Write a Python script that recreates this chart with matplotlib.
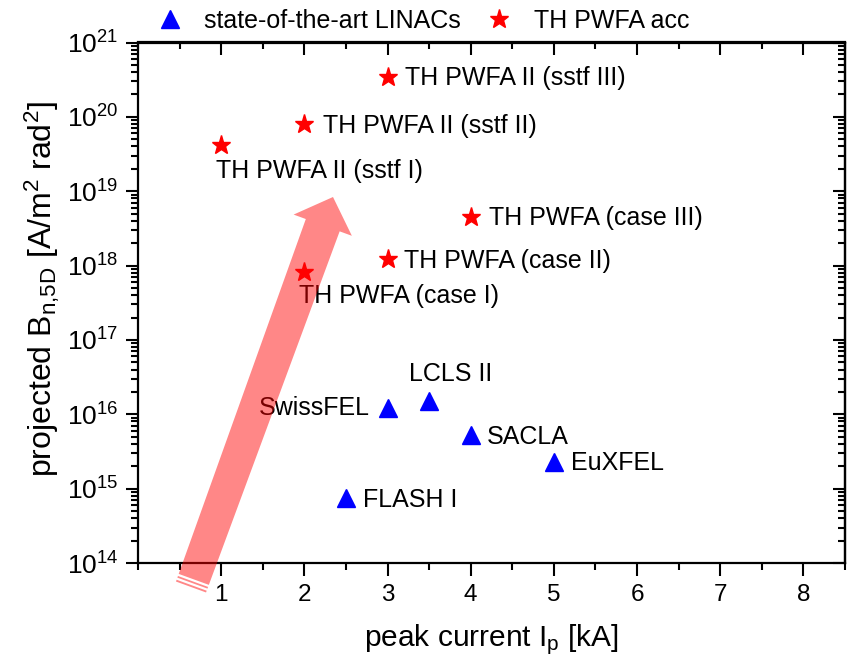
import matplotlib
matplotlib.use("Agg")
import matplotlib.pyplot as plt
import numpy as np
from matplotlib.patches import Polygon
from matplotlib.lines import Line2D
from matplotlib.ticker import MultipleLocator, LogLocator, NullFormatter, FuncFormatter

plt.rcParams['font.family'] = ['Liberation Sans', 'DejaVu Sans']
plt.rcParams['mathtext.fontset'] = 'custom'
plt.rcParams['mathtext.rm'] = 'Liberation Sans'
plt.rcParams['mathtext.it'] = 'Liberation Sans:italic'
plt.rcParams['mathtext.default'] = 'regular'

# ---------------- data ----------------
linac_names = ['SwissFEL', 'LCLS II', 'SACLA', 'EuXFEL', 'FLASH I']
linac_current = [3.0, 3.5, 4.0, 5.0, 2.5]
linac_brightness = [1.2e16, 1.5e16, 5.3e15, 2.3e15, 7.5e14]

pwfa_names = ['TH PWFA II (sstf III)', 'TH PWFA II (sstf II)', 'TH PWFA II (sstf I)',
              'TH PWFA (case III)', 'TH PWFA (case II)', 'TH PWFA (case I)']
pwfa_current = [3.0, 2.0, 1.0, 4.0, 3.0, 2.0]
pwfa_brightness = [3.4e20, 8.1e19, 4.15e19, 4.5e18, 1.22e18, 8.2e17]

legend_labels = ['state-of-the-art LINACs', 'TH PWFA acc']
x_ticks = [1, 2, 3, 4, 5, 6, 7, 8]

# ---------------- label placement (pixel offsets, y up) ----------------
linac_offsets = [(-18, 0, 'right'), (22, 27, 'center'), (16, -2, 'left'),
                 (17, -1, 'left'), (17, -2, 'left')]
pwfa_offsets = [(17, -1, 'left'), (19, -2, 'left'), (-5, -26, 'left'),
                (18, -1, 'left'), (16, -2, 'left'), (-5, -24, 'left')]

W, H = 852, 667
fig = plt.figure(figsize=(W / 100, H / 100), dpi=100)
L, R, T, B = 138, 845, 42.5, 563
ax = fig.add_axes([L / W, 1 - B / H, (R - L) / W, (B - T) / H])

ax.set_yscale('log')
ax.set_xlim(0, 8.5)
ax.set_ylim(1e14, 1e21)

ax.plot(linac_current, linac_brightness, ls='none', marker='^', ms=13.5,
        color='#0000ff', mec='#0000ff', label=legend_labels[0], zorder=3)
ax.plot(pwfa_current, pwfa_brightness, ls='none', marker='*', ms=14,
        color='#ff0000', mec='#ff0000', label=legend_labels[1], zorder=3)

fs_ann = 18
for name, x, y, (dx, dy, ha) in zip(linac_names, linac_current, linac_brightness, linac_offsets):
    ax.annotate(name, (x, y), xytext=(dx, dy), textcoords='offset pixels',
                ha=ha, va='center', fontsize=fs_ann, color='black')
for name, x, y, (dx, dy, ha) in zip(pwfa_names, pwfa_current, pwfa_brightness, pwfa_offsets):
    ax.annotate(name, (x, y), xytext=(dx, dy), textcoords='offset pixels',
                ha=ha, va='center', fontsize=fs_ann, color='black')

# ticks
ax.set_xticks(x_ticks)
ax.xaxis.set_minor_locator(MultipleLocator(0.5))
ax.yaxis.set_major_locator(LogLocator(base=10, numticks=20))
ax.yaxis.set_minor_locator(LogLocator(base=10, subs=np.arange(2, 10), numticks=20))
ax.yaxis.set_minor_formatter(NullFormatter())
ax.yaxis.set_major_formatter(FuncFormatter(lambda v, p: '$10^{%d}$' % round(np.log10(v))))
ax.tick_params(which='major', direction='out', length=9, width=1.5, labelsize=17.5,
               top=False, right=False, pad=6)
ax.tick_params(axis='y', which='major', labelsize=19, pad=5)
ax.tick_params(which='minor', direction='out', length=5, width=1.5, top=False, right=False)
for s in ax.spines.values():
    s.set_linewidth(1.6)

secx = ax.secondary_xaxis('top')
secx.set_xticks(x_ticks)
secx.xaxis.set_minor_locator(MultipleLocator(0.5))
secx.tick_params(which='major', direction='in', length=9, width=1.5, labeltop=False)
secx.tick_params(which='minor', direction='in', length=5, width=1.5)
secx.spines['top'].set_linewidth(1.6)

secy = ax.secondary_yaxis('right')
secy.yaxis.set_major_locator(LogLocator(base=10, numticks=20))
secy.yaxis.set_minor_locator(LogLocator(base=10, subs=np.arange(2, 10), numticks=20))
secy.tick_params(which='major', direction='in', length=9, width=1.5, labelright=False)
secy.tick_params(which='minor', direction='in', length=5, width=1.5, labelright=False)
secy.spines['right'].set_linewidth(1.6)

ax.set_xlabel('peak current I$_{p}$ [kA]', fontsize=21.5, labelpad=12)
ax.set_ylabel('projected B$_{n{,}5D}$ [A/m$^{2}$ rad$^{2}$]', fontsize=23)
ax.yaxis.set_label_coords(-0.108, 0.526)

# legend
fig.legend(loc='center left', bbox_to_anchor=(157 / W, 1 - 21 / H), ncol=2,
           frameon=False, fontsize=18, handlelength=1.0, handletextpad=0.9,
           columnspacing=1.0, borderpad=0, borderaxespad=0, numpoints=1)

# big translucent arrow (annotation, pixel geometry)
tail = np.array([191.0, 587.0])
tip = np.array([333.0, 197.0])
u = (tip - tail) / np.linalg.norm(tip - tail)
n = np.array([-u[1], u[0]])
if n[0] < 0:
    n = -n
head_len, head_hw, neck_hw, tail_hw = 30, 31, 18, 16
neck = tip - u * head_len
pts = [tail - n * tail_hw, neck - n * neck_hw, neck - n * head_hw, tip,
       neck + n * head_hw, neck + n * neck_hw, tail + n * tail_hw]
to_fig = lambda p: (p[0] / W, 1 - p[1] / H)
fig.add_artist(Polygon([to_fig(p) for p in pts], closed=True, transform=fig.transFigure,
                       facecolor='#ff0000', edgecolor='none', alpha=0.47, zorder=10))
for s in (3.0, 7.0):
    c = tail + u * s
    a, b = c - n * (tail_hw + 2), c + n * (tail_hw + 2)
    fig.add_artist(Line2D([to_fig(a)[0], to_fig(b)[0]], [to_fig(a)[1], to_fig(b)[1]],
                          transform=fig.transFigure, color='white', lw=1.6, zorder=11))

fig.savefig('out.png', dpi=100)
